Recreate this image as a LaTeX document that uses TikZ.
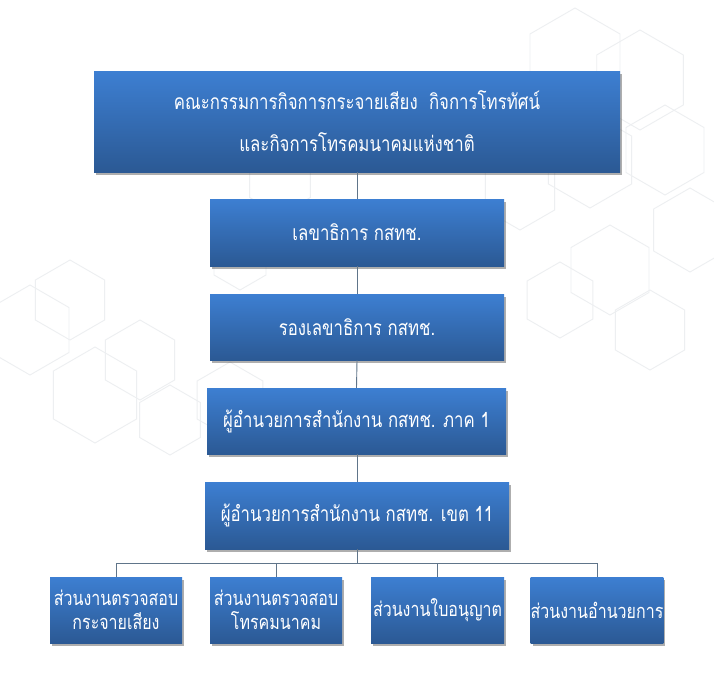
\documentclass[tikz,border=0pt]{standalone}
\usepackage{fontspec}
\newfontfamily\thaifont[Script=Thai, FakeStretch=0.8]{Loma}
\usetikzlibrary{shadows}
\definecolor{boxtop}{HTML}{3D7FD2}
\definecolor{boxbot}{HTML}{2B5994}
\definecolor{linec}{HTML}{60758A}
\definecolor{hexc}{HTML}{EDEFF1}
\begin{document}
\begin{tikzpicture}[x=1pt,y=-1pt,
  box/.style={rectangle, top color=boxtop, bottom color=boxbot, draw=none,
    text=white, font=\thaifont\fontsize{21}{24}\selectfont, align=center, inner sep=0pt,
    drop shadow={shadow xshift=2pt, shadow yshift=-2.5pt, opacity=0.45, fill=black!70}},
  small/.style={box, font=\thaifont\fontsize{20}{24}\selectfont, minimum width=132pt, minimum height=66pt},
  conn/.style={draw=linec, line width=0.9pt},
  hex/.style={draw=hexc, line width=0.9pt}]
\useasboundingbox (0,0) rectangle (714,672);
\fill[white] (0,0) rectangle (714,672);
% faint hexagon watermark
\foreach \cx/\cy/\r in {575/60/52, 640/80/50, 590/160/48, 665/150/45, 690/230/42, 610/270/45, 520/190/40,
                       650/330/40, 560/300/38, 30/330/45, 95/395/48, 70/300/40, 140/360/40, 170/420/35, 230/400/38, 280/180/35, 240/260/30}{
  \draw[hex] (\cx,\cy-\r) -- (\cx+0.866*\r,\cy-0.5*\r) -- (\cx+0.866*\r,\cy+0.5*\r) -- (\cx,\cy+\r)
    -- (\cx-0.866*\r,\cy+0.5*\r) -- (\cx-0.866*\r,\cy-0.5*\r) -- cycle;
}
\node[box, minimum width=526pt, minimum height=101pt] (top) at (357,121.5)
  {คณะกรรมการกิจการกระจายเสียง\ \ กิจการโทรทัศน์\\[18pt]และกิจการโทรคมนาคมแห่งชาติ};
\node[box, minimum width=294pt, minimum height=67pt] (sec) at (357,232.5) {เลขาธิการ กสทช.};
\node[box, minimum width=294pt, minimum height=66pt] (dep) at (357,327) {รองเลขาธิการ กสทช.};
\node[box, minimum width=299pt, minimum height=66pt] (reg) at (356.5,421) {ผู้อำนวยการสำนักงาน กสทช. ภาค 1};
\node[box, minimum width=304pt, minimum height=67pt] (zone) at (357,515.5) {ผู้อำนวยการสำนักงาน กสทช. เขต 11};
\node[small] (ua) at (116,610) {ส่วนงานตรวจสอบ\\กระจายเสียง};
\node[small] (ub) at (276,610) {ส่วนงานตรวจสอบ\\โทรคมนาคม};
\node[small, minimum width=133pt] (uc) at (437.5,610) {ส่วนงานใบอนุญาต};
\node[small] (ud) at (597,610) {ส่วนงานอำนวยการ};
\coordinate (bar) at (357,563);
\draw[conn] (top.south) -- (sec.north);
\draw[conn] (sec.south) -- (dep.north);
\draw[conn] (dep.south) -- (reg.north);
\draw[conn] (reg.south) -- (zone.south |- reg.south) -- (zone.north);
\draw[conn] (zone.south) -- (bar);
\draw[conn] (bar) -| (ua.north);
\draw[conn] (bar) -| (ub.north);
\draw[conn] (bar) -| (uc.north);
\draw[conn] (bar) -| (ud.north);
\end{tikzpicture}
\end{document}
